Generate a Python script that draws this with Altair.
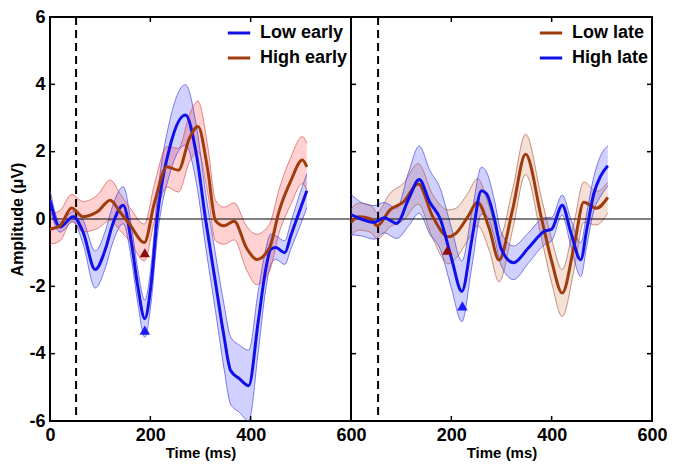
import altair as alt
import pandas as pd

# ---------------- data ----------------
# Left panel: Low early (blue)
le_t = [0, 20, 46, 66, 90, 111, 124, 146, 163, 175, 189, 201, 214, 240, 270, 292, 310, 330, 347, 360, 378, 396, 415, 430, 440, 450, 468, 480, 503, 512]
le_m = [0.56, -0.24, 0.07, -0.39, -1.5, -0.87, -0.2, 0.41, -0.77, -2.0, -2.96, -2.0, 0.07, 2.2, 3.09, 1.9, 0.0, -1.9, -3.5, -4.5, -4.75, -4.95, -3.05, -1.5, -0.9, -0.85, -1.0, -0.5, 0.47, 0.84]
le_w = [0.3, 0.15, 0.15, 0.35, 0.55, 0.55, 0.55, 0.55, 0.5, 0.5, 0.55, 0.55, 0.6, 0.8, 0.9, 0.85, 0.8, 0.85, 0.95, 1.0, 1.0, 1.05, 0.9, 0.6, 0.45, 0.35, 0.35, 0.4, 0.5, 0.5]

# Left panel: High early (brown)
he_t = [0, 20, 43, 66, 95, 120, 140, 159, 188, 208, 233, 256, 278, 295, 314, 330, 347, 367, 392, 412, 437, 457, 480, 503, 512]
he_m = [-0.3, -0.2, 0.33, 0.07, 0.22, 0.56, 0.2, -0.16, -0.7, 0.47, 1.55, 1.45, 2.4, 2.75, 1.5, -0.05, -0.2, -0.07, -0.87, -1.2, -0.87, 0.25, 1.13, 1.75, 1.55]
he_w = [0.45, 0.45, 0.4, 0.45, 0.5, 0.6, 0.55, 0.5, 0.55, 0.55, 0.6, 0.65, 0.7, 0.75, 0.7, 0.6, 0.55, 0.55, 0.65, 0.75, 0.7, 0.65, 0.7, 0.7, 0.7]

# Right panel: Low late (brown)
ll_t = [0, 15, 40, 52, 78, 104, 134, 163, 194, 208, 233, 252, 276, 295, 322, 348, 380, 400, 421, 445, 464, 489, 512]
ll_m = [-0.1, 0.07, 0.0, -0.2, 0.27, 0.5, 1.04, 0.07, -0.53, -0.44, 0.07, 0.5, -0.3, -1.22, 0.27, 1.92, 0.0, -1.25, -2.2, -0.78, 0.5, 0.32, 0.64]
ll_w = [0.4, 0.4, 0.4, 0.4, 0.5, 0.55, 0.6, 0.65, 0.8, 0.75, 0.7, 0.7, 0.65, 0.65, 0.6, 0.6, 0.6, 0.65, 0.7, 0.7, 0.6, 0.5, 0.45]

# Right panel: High late (blue)
hl_t = [0, 20, 46, 66, 91, 115, 136, 157, 178, 200, 221, 241, 260, 270, 286, 299, 324, 353, 386, 400, 421, 438, 458, 470, 484, 497, 512]
hl_m = [0.13, 0.0, -0.1, 0.04, -0.13, 0.6, 1.17, 0.5, 0.0, -1.15, -2.15, -0.6, 0.84, 0.75, 0.0, -0.87, -1.3, -0.87, -0.36, -0.3, 0.41, -0.39, -1.21, -0.3, 0.75, 1.26, 1.58]
hl_w = [0.6, 0.5, 0.5, 0.45, 0.45, 0.8, 1.0, 0.95, 0.9, 0.9, 0.9, 0.8, 0.7, 0.65, 0.55, 0.5, 0.5, 0.45, 0.4, 0.35, 0.3, 0.4, 0.5, 0.5, 0.5, 0.6, 0.6]

# peak markers (time, amplitude)
left_markers_t = [189, 189]
left_markers_v = [-1.0, -3.3]
right_markers_t = [192, 222]
right_markers_v = [-0.93, -2.58]

stim_left = 52
stim_right = 54

x_labels_left = [0, 200, 400, 600]
x_labels_right = [200, 400, 600]
x_ticks = [200, 400]
y_labels = [-6, -4, -2, 0, 2, 4, 6]
y_ticks = [-4, -2, 2, 4]

BLUE = "#1010EA"
BROWN = "#A03C0C"
FONT = "Liberation Sans"

W1, W2, H = 301, 301, 404
TL = 5  # tick length


def frame(t, m, w, name):
    return pd.DataFrame({
        "t": t, "mean": m,
        "lo": [a - b for a, b in zip(m, w)],
        "hi": [a + b for a, b in zip(m, w)],
        "series": name,
    })


def panel(series, names, colors, fills, fill_op, edges, mk_t, mk_v, mk_colors,
          stim, xlabels, width, show_y):
    xscale = alt.Scale(domain=[0, 600], nice=False, zero=False)
    yscale = alt.Scale(domain=[-6, 6], nice=False, zero=False)
    xaxis = alt.Axis(values=xlabels, title="Time (ms)", labelFlush=False,
                     labelOverlap=False, labelPadding=5, titlePadding=1,
                     titleFontSize=15)
    if show_y:
        yaxis = alt.Axis(values=y_labels, title="Amplitude (μV)", labelFlush=False,
                         labelOverlap=False, labelPadding=5, titlePadding=3,
                         titleFontSize=16, labelExpr="'' + datum.value")
    else:
        yaxis = None

    def X(f):
        return alt.X(f, scale=xscale, axis=xaxis)

    def Y(f):
        return alt.Y(f, scale=yscale, axis=yaxis)

    layers = []
    df_all = pd.concat(series, ignore_index=True)
    for df, fc, fo in zip(series, fills, fill_op):
        layers.append(alt.Chart(df).mark_area(interpolate="monotone", clip=True,
                                              opacity=fo, color=fc)
                      .encode(x=X("t:Q"), y=Y("lo:Q"), y2="hi:Q"))
    for df, ec in zip(series, edges):
        for f in ["lo", "hi"]:
            layers.append(alt.Chart(df).mark_line(interpolate="monotone", clip=True,
                                                  strokeWidth=0.8, color=ec, opacity=0.8)
                          .encode(x=X("t:Q"), y=Y(f + ":Q")))
    layers.append(alt.Chart(pd.DataFrame({"z": [0]})).mark_rule(color="black", strokeWidth=1)
                  .encode(y=Y("z:Q"), x=alt.value(0), x2=alt.value(width)))
    layers.append(alt.Chart(pd.DataFrame({"s": [stim]})).mark_rule(color="black", strokeWidth=2,
                                                                  strokeDash=[8, 5])
                  .encode(x=X("s:Q"), y=alt.value(0), y2=alt.value(H)))
    layers.append(alt.Chart(df_all).mark_line(interpolate="monotone", clip=True, strokeWidth=3)
                  .encode(x=X("t:Q"), y=Y("mean:Q"),
                          color=alt.Color("series:N", sort=names,
                                          scale=alt.Scale(domain=names, range=colors),
                                          legend=alt.Legend(title=None, orient="top-right",
                                                            offset=3))))
    mk = pd.DataFrame({"t": mk_t, "v": mk_v, "c": mk_colors})
    layers.append(alt.Chart(mk).mark_point(shape="triangle-up", filled=True, size=110, opacity=1)
                  .encode(x=X("t:Q"), y=Y("v:Q"), fill=alt.Fill("c:N", scale=None)))
    xt = pd.DataFrame({"tx": x_ticks})
    layers.append(alt.Chart(xt).mark_rule(color="black", strokeWidth=1.5)
                  .encode(x=X("tx:Q"), y=alt.value(H), y2=alt.value(H - TL)))
    layers.append(alt.Chart(xt).mark_rule(color="black", strokeWidth=1.5)
                  .encode(x=X("tx:Q"), y=alt.value(0), y2=alt.value(TL)))
    yt = pd.DataFrame({"ty": y_ticks})
    layers.append(alt.Chart(yt).mark_rule(color="black", strokeWidth=1.5)
                  .encode(y=Y("ty:Q"), x=alt.value(0), x2=alt.value(TL)))
    if not show_y:
        layers.append(alt.Chart(yt).mark_rule(color="black", strokeWidth=1.5)
                      .encode(y=Y("ty:Q"), x=alt.value(width - TL), x2=alt.value(width)))
    return alt.layer(*layers).properties(width=width, height=H)


left = panel(
    [frame(le_t, le_m, le_w, "Low early"), frame(he_t, he_m, he_w, "High early")],
    ["Low early", "High early"], [BLUE, BROWN],
    ["#0000FF", "#FF0000"], [0.18, 0.18], ["#3A3AD8", "#D04848"],
    left_markers_t, left_markers_v, ["#8E0C0C", "#1A1AFF"],
    stim_left, x_labels_left, W1, True)

right = panel(
    [frame(ll_t, ll_m, ll_w, "Low late"), frame(hl_t, hl_m, hl_w, "High late")],
    ["Low late", "High late"], [BROWN, BLUE],
    ["#C86432", "#0000FF"], [0.2, 0.18], ["#A8583A", "#3A3AD8"],
    right_markers_t, right_markers_v, ["#8E0C0C", "#1A1AFF"],
    stim_right, x_labels_right, W2, False)

chart = (alt.hconcat(left, right, spacing=0, bounds="flush")
         .resolve_scale(color="independent", fill="independent")
         .resolve_legend(color="independent")
         .properties(padding={"left": 0, "top": -1, "right": 0, "bottom": 0})
         .configure_view(stroke="black", strokeWidth=2)
         .configure_axis(labelFont=FONT, labelFontSize=18, labelFontWeight="bold",
                         labelColor="black", titleFont=FONT, titleFontWeight="bold",
                         titleColor="black", grid=False, ticks=False, domain=False)
         .configure_legend(labelFont=FONT, labelFontSize=18, labelFontWeight="bold",
                           labelColor="black", symbolType="stroke", symbolStrokeWidth=3,
                           symbolSize=500, labelOffset=8, rowPadding=3, padding=0,
                           symbolOffset=0))

chart.save("out.html", embed_options={"renderer": "svg", "actions": False})
